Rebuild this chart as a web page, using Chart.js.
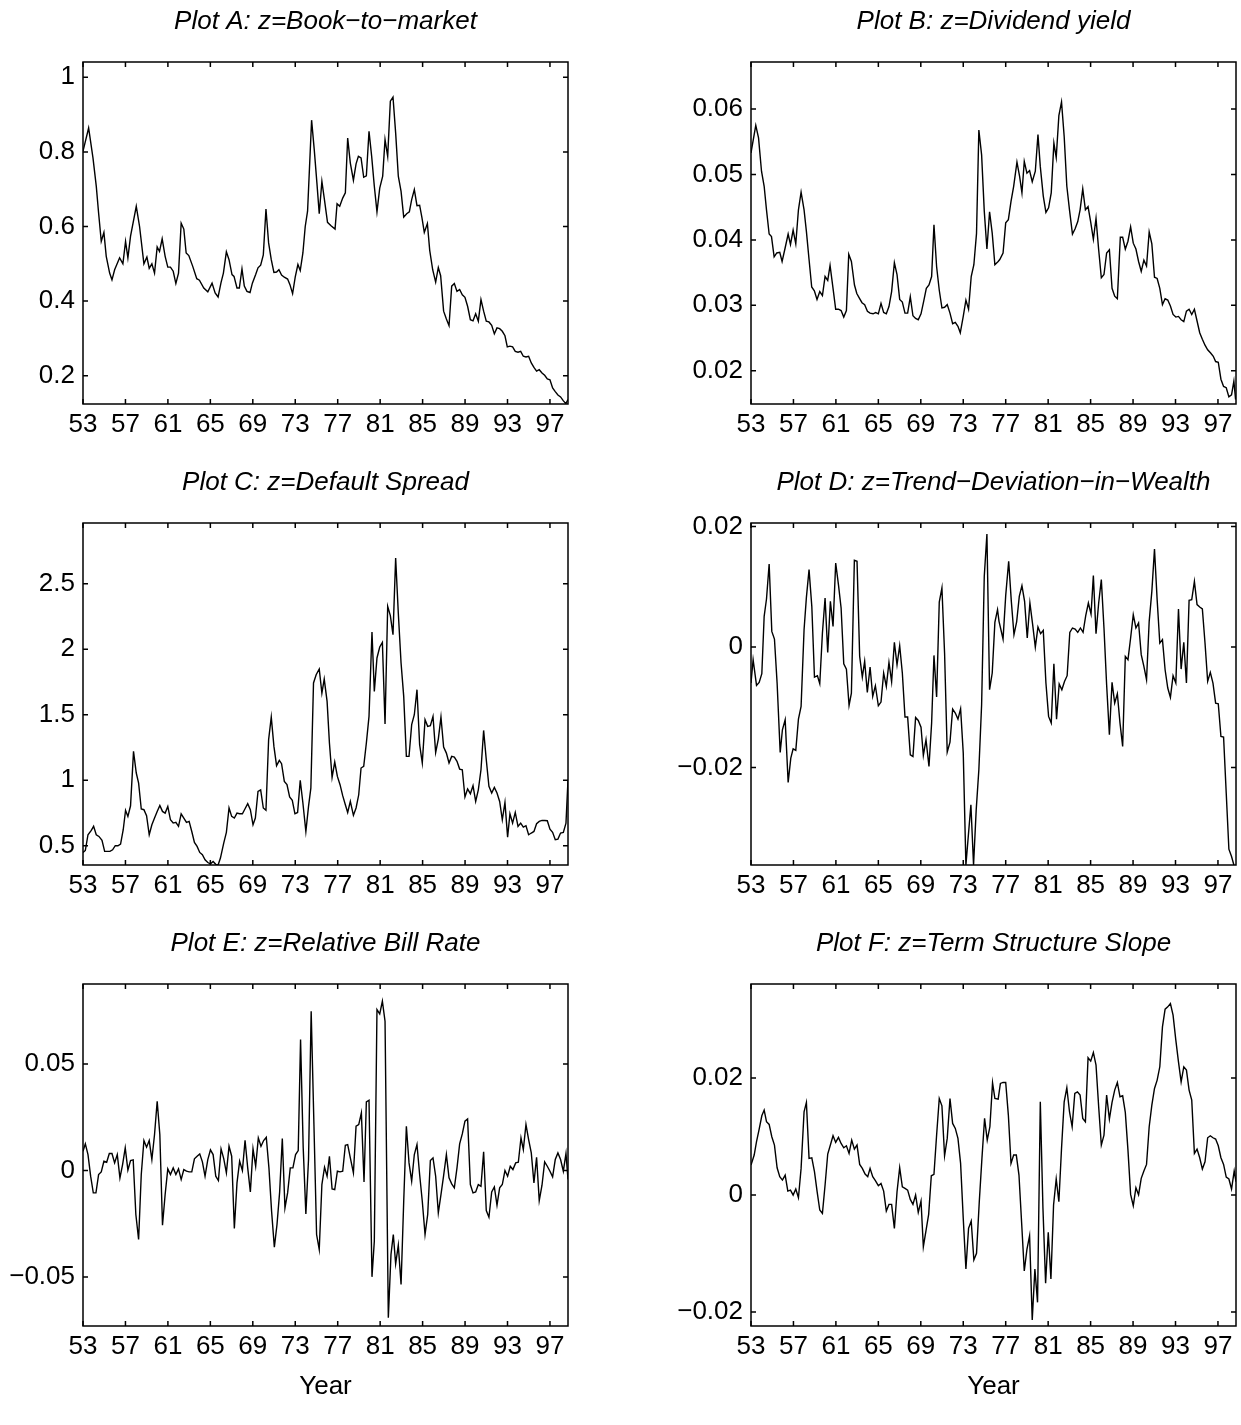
<!DOCTYPE html>
<html>
<head>
<meta charset="utf-8">
<script src="https://cdn.jsdelivr.net/npm/chart.js@4.4.1/dist/chart.umd.min.js"></script>
<style>
  html, body { margin: 0; padding: 0; background: #fff; overflow: hidden; }
  body { width: 1241px; height: 1425px; position: relative; }
</style>
</head>
<body>
<script>
// Six predictive variables, quarterly 1953-1998, one small line plot each (3 x 2 grid)

// ---- Plot A: book-to-market
const bmYears = [53.00,53.53,53.94,54.25,54.47,54.72,54.97,55.19,55.51,55.73,55.98,56.45,56.76,57.01,57.23,57.48,58.02,58.33,58.74,59.02,
  59.24,59.49,59.74,59.99,60.21,60.46,60.74,60.99,61.24,61.50,61.75,62.00,62.25,62.50,62.72,62.97,63.34,63.72,63.97,64.38,
  64.76,65.16,65.45,65.73,66.01,66.23,66.51,66.76,67.04,67.23,67.51,67.73,67.98,68.20,68.45,68.74,68.96,69.27,69.49,69.74,
  69.99,70.24,70.49,70.74,70.99,71.24,71.46,71.71,71.97,72.28,72.50,72.75,73.00,73.25,73.47,73.72,73.94,74.16,74.54,74.79,
  75.04,75.26,75.51,75.73,76.04,76.37,76.75,76.94,77.19,77.47,77.72,77.94,78.19,78.48,78.73,78.95,79.20,79.45,79.70,79.95,
  80.20,80.45,80.70,80.96,81.24,81.46,81.71,81.96,82.21,82.46,82.71,82.97,83.22,83.50,83.75,83.97,84.22,84.47,84.72,84.94,
  85.16,85.45,85.67,85.95,86.23,86.48,86.70,86.98,87.24,87.49,87.74,87.99,88.24,88.49,88.74,88.99,89.24,89.50,89.75,90.00,
  90.25,90.50,90.75,91.00,91.25,91.51,91.76,92.01,92.26,92.51,92.76,92.98,93.23,93.48,93.73,93.99,94.24,94.49,94.74,94.99,
  95.24,95.49,95.74,95.99,96.25,96.50,96.75,97.00,97.25,97.50,97.75,98.00,98.25,98.50,98.70];
const bmValues = [0.802,0.864,0.784,0.708,0.636,0.560,0.584,0.520,0.475,0.457,0.484,0.516,0.500,0.560,0.516,0.574,0.654,0.600,0.500,0.518,
  0.488,0.500,0.475,0.545,0.533,0.567,0.520,0.491,0.491,0.480,0.447,0.475,0.609,0.593,0.529,0.522,0.493,0.460,0.456,0.435,
  0.425,0.448,0.422,0.411,0.450,0.475,0.532,0.511,0.471,0.466,0.435,0.435,0.486,0.440,0.426,0.423,0.448,0.471,0.489,0.496,
  0.524,0.647,0.556,0.511,0.477,0.478,0.484,0.470,0.464,0.459,0.444,0.420,0.465,0.498,0.482,0.529,0.600,0.641,0.885,0.806,
  0.717,0.634,0.721,0.676,0.611,0.602,0.593,0.661,0.654,0.676,0.690,0.837,0.770,0.724,0.768,0.788,0.784,0.732,0.736,0.855,
  0.788,0.708,0.639,0.703,0.735,0.833,0.788,0.936,0.947,0.851,0.735,0.694,0.625,0.634,0.639,0.672,0.699,0.656,0.657,0.623,
  0.584,0.608,0.536,0.484,0.451,0.490,0.468,0.373,0.352,0.334,0.440,0.447,0.426,0.431,0.417,0.410,0.386,0.350,0.347,0.366,
  0.346,0.404,0.373,0.346,0.344,0.335,0.312,0.328,0.326,0.319,0.307,0.277,0.279,0.277,0.265,0.263,0.265,0.252,0.250,0.252,
  0.234,0.222,0.212,0.216,0.207,0.201,0.191,0.189,0.167,0.157,0.148,0.143,0.133,0.125,0.136];
const bmTicks = [0.2, 0.4, 0.6, 0.8, 1];
const bmRange = [0.124, 1.041];

// ---- Plot B: dividend yield
const dyYears = [53.00,53.45,53.71,53.99,54.24,54.46,54.71,54.93,55.18,55.43,55.71,55.93,56.22,56.50,56.72,56.97,57.22,57.47,57.72,58.00,
  58.22,58.47,58.72,58.97,59.22,59.48,59.73,59.98,60.23,60.45,60.73,60.98,61.24,61.49,61.74,61.99,62.21,62.46,62.75,62.97,
  63.21,63.46,63.71,63.97,64.22,64.50,64.75,65.00,65.25,65.50,65.75,66.00,66.25,66.51,66.76,67.01,67.26,67.51,67.76,68.01,
  68.26,68.51,68.76,69.02,69.27,69.52,69.77,70.02,70.24,70.49,70.74,70.99,71.24,71.49,71.75,72.00,72.25,72.50,72.72,73.00,
  73.25,73.50,73.75,74.00,74.25,74.47,74.73,74.98,75.23,75.48,75.73,75.98,76.29,76.44,76.75,77.00,77.25,77.50,77.75,78.06,
  78.31,78.53,78.75,79.00,79.25,79.50,79.79,80.04,80.26,80.54,80.79,81.04,81.29,81.54,81.76,82.01,82.26,82.51,82.76,83.01,
  83.29,83.54,83.79,84.01,84.26,84.51,84.76,85.01,85.26,85.51,85.76,86.01,86.26,86.51,86.77,87.02,87.27,87.52,87.80,88.02,
  88.27,88.52,88.77,89.02,89.27,89.52,89.77,90.02,90.27,90.52,90.77,91.02,91.27,91.52,91.77,92.02,92.27,92.52,92.77,93.03,
  93.28,93.53,93.78,94.03,94.28,94.53,94.78,95.03,95.28,95.53,95.78,96.03,96.31,96.56,96.78,97.03,97.28,97.53,97.78,98.03,
  98.28,98.50,98.66];
const dyValues = [0.0533,0.0575,0.0556,0.0505,0.0482,0.0446,0.0409,0.0405,0.0374,0.0380,0.0381,0.0367,0.0388,0.0409,0.0393,0.0415,0.0394,0.0446,0.0473,0.0446,
  0.0413,0.0370,0.0328,0.0322,0.0309,0.0321,0.0315,0.0344,0.0338,0.0361,0.0326,0.0294,0.0294,0.0292,0.0282,0.0292,0.0378,0.0367,0.0331,0.0318,
  0.0311,0.0304,0.0301,0.0291,0.0288,0.0287,0.0289,0.0287,0.0303,0.0289,0.0287,0.0298,0.0321,0.0365,0.0347,0.0309,0.0305,0.0288,0.0288,0.0313,
  0.0284,0.0280,0.0278,0.0287,0.0306,0.0326,0.0331,0.0344,0.0423,0.0359,0.0323,0.0296,0.0297,0.0301,0.0288,0.0272,0.0274,0.0268,0.0258,0.0283,
  0.0308,0.0294,0.0344,0.0362,0.0410,0.0568,0.0530,0.0444,0.0386,0.0443,0.0410,0.0362,0.0367,0.0370,0.0380,0.0426,0.0431,0.0459,0.0482,0.0519,
  0.0497,0.0472,0.0520,0.0502,0.0506,0.0489,0.0505,0.0561,0.0512,0.0467,0.0442,0.0449,0.0472,0.0548,0.0526,0.0590,0.0611,0.0558,0.0482,0.0446,
  0.0409,0.0417,0.0428,0.0446,0.0478,0.0446,0.0451,0.0427,0.0401,0.0433,0.0385,0.0342,0.0347,0.0380,0.0385,0.0326,0.0314,0.0310,0.0404,0.0404,
  0.0386,0.0398,0.0420,0.0395,0.0386,0.0367,0.0352,0.0369,0.0360,0.0412,0.0394,0.0343,0.0341,0.0326,0.0301,0.0310,0.0308,0.0299,0.0286,0.0282,
  0.0283,0.0278,0.0275,0.0291,0.0294,0.0286,0.0294,0.0276,0.0258,0.0248,0.0239,0.0232,0.0227,0.0222,0.0214,0.0213,0.0187,0.0176,0.0174,0.0160,
  0.0163,0.0184,0.0156];
const dyTicks = [0.02, 0.03, 0.04, 0.05, 0.06];
const dyRange = [0.01491, 0.0672];

// ---- Plot C: default spread
const dsYears = [53.00,53.22,53.47,53.78,54.00,54.25,54.50,54.79,55.04,55.29,55.54,55.79,56.04,56.29,56.54,56.79,57.01,57.23,57.48,57.76,
  58.02,58.24,58.49,58.74,58.99,59.24,59.49,59.74,59.99,60.24,60.49,60.74,60.99,61.24,61.50,61.75,62.00,62.25,62.50,62.75,
  63.00,63.25,63.50,63.75,64.00,64.25,64.50,64.76,65.01,65.26,65.51,65.73,65.95,66.26,66.51,66.76,67.01,67.26,67.51,67.76,
  68.02,68.27,68.52,68.77,69.02,69.24,69.49,69.74,69.99,70.24,70.49,70.74,70.99,71.24,71.50,71.71,71.97,72.22,72.47,72.72,
  72.97,73.22,73.47,73.72,74.00,74.25,74.47,74.72,74.97,75.26,75.51,75.73,76.00,76.22,76.47,76.72,76.97,77.22,77.47,77.72,
  77.94,78.19,78.48,78.73,78.98,79.20,79.45,79.70,79.95,80.23,80.45,80.70,80.96,81.21,81.46,81.71,81.96,82.21,82.46,82.71,
  82.97,83.22,83.47,83.72,83.97,84.22,84.47,84.72,84.97,85.23,85.48,85.73,85.98,86.23,86.48,86.73,86.98,87.24,87.49,87.74,
  87.99,88.24,88.49,88.74,88.99,89.24,89.50,89.75,90.00,90.25,90.50,90.75,91.00,91.25,91.51,91.76,92.01,92.26,92.51,92.76,
  93.01,93.23,93.48,93.73,93.99,94.24,94.49,94.74,94.99,95.24,95.49,95.74,95.99,96.25,96.50,96.75,97.00,97.25,97.50,97.75,
  98.00,98.26,98.51,98.70];
const dsValues = [0.449,0.464,0.584,0.617,0.648,0.584,0.571,0.541,0.457,0.457,0.457,0.469,0.500,0.500,0.513,0.622,0.770,0.724,0.805,1.220,
  1.055,0.978,0.780,0.775,0.729,0.584,0.660,0.711,0.762,0.808,0.762,0.749,0.800,0.698,0.673,0.678,0.648,0.744,0.711,0.678,
  0.686,0.609,0.525,0.495,0.449,0.431,0.393,0.372,0.362,0.380,0.358,0.353,0.406,0.520,0.602,0.788,0.724,0.711,0.749,0.744,
  0.744,0.782,0.821,0.775,0.660,0.711,0.915,0.927,0.788,0.770,1.309,1.482,1.258,1.111,1.151,1.126,0.991,0.966,0.872,0.846,
  0.744,0.754,0.999,0.826,0.609,0.800,0.940,1.742,1.805,1.849,1.665,1.772,1.602,1.284,1.022,1.139,1.029,0.966,0.882,0.813,
  0.754,0.838,0.732,0.788,0.889,1.093,1.106,1.284,1.487,2.131,1.678,1.933,2.017,2.052,1.429,2.327,2.256,2.111,2.696,2.276,
  1.894,1.640,1.182,1.182,1.424,1.500,1.691,1.271,1.131,1.462,1.411,1.416,1.487,1.212,1.314,1.482,1.253,1.207,1.131,1.182,
  1.177,1.144,1.085,1.080,0.872,0.933,0.897,0.958,0.838,0.927,1.080,1.380,1.156,0.953,0.902,0.945,0.902,0.838,0.698,0.831,
  0.566,0.744,0.673,0.754,0.648,0.673,0.642,0.653,0.584,0.597,0.609,0.668,0.686,0.693,0.693,0.691,0.627,0.602,0.546,0.551,
  0.597,0.602,0.673,1.004];
const dsTicks = [0.5, 1, 1.5, 2, 2.5];
const dsRange = [0.353, 2.963];

// ---- Plot D: trend deviation in wealth
const cayYears = [53.00,53.20,53.52,53.77,54.02,54.24,54.46,54.71,54.96,55.21,55.46,55.75,55.96,56.22,56.50,56.75,56.97,57.22,57.47,57.72,
  58.00,58.22,58.47,58.73,58.98,59.26,59.48,59.73,59.98,60.23,60.48,60.73,60.98,61.24,61.49,61.74,61.99,62.24,62.46,62.74,
  62.99,63.24,63.49,63.71,63.96,64.22,64.47,64.72,65.00,65.25,65.50,65.75,66.00,66.25,66.51,66.76,67.01,67.26,67.51,67.76,
  68.01,68.26,68.51,68.76,69.02,69.24,69.49,69.77,70.02,70.24,70.49,70.74,70.99,71.24,71.49,71.75,72.00,72.25,72.50,72.75,
  73.00,73.25,73.72,73.97,74.22,74.47,74.73,74.98,75.23,75.48,75.73,75.98,76.23,76.37,76.75,77.00,77.28,77.53,77.78,78.03,
  78.28,78.53,78.78,79.03,79.28,79.54,79.79,80.04,80.29,80.54,80.79,81.04,81.29,81.54,81.79,82.04,82.29,82.54,82.79,83.04,
  83.29,83.54,83.79,84.04,84.29,84.54,84.79,85.04,85.26,85.51,85.76,86.01,86.26,86.51,86.77,87.02,87.27,87.52,87.77,88.02,
  88.27,88.52,88.77,89.02,89.27,89.52,89.77,90.02,90.27,90.52,90.77,91.02,91.27,91.52,91.77,92.02,92.27,92.52,92.77,93.03,
  93.28,93.53,93.78,94.03,94.28,94.53,94.78,95.03,95.28,95.53,95.78,96.03,96.28,96.53,96.78,97.03,97.28,97.53,97.78,98.03,
  98.28,98.50];
const cayValues = [-0.00598,-0.00211,-0.00637,-0.00587,-0.00443,0.00510,0.00798,0.01380,0.00260,0.00133,-0.00598,-0.01751,-0.01374,-0.01208,-0.02249,-0.01845,-0.01690,-0.01717,-0.01197,-0.00986,
  0.00288,0.00825,0.01285,0.00676,-0.00499,-0.00476,-0.00609,0.00233,0.00814,-0.00089,0.00759,0.00343,0.01396,0.01036,0.00648,-0.00277,-0.00366,-0.00970,-0.00765,0.01440,
  0.01424,-0.00155,-0.00499,-0.00238,-0.00753,-0.00332,-0.00820,-0.00643,-0.00975,-0.00914,-0.00432,-0.00654,-0.00255,-0.00576,0.00078,-0.00294,0.00022,-0.00432,-0.01163,-0.01163,
  -0.01789,-0.01817,-0.01169,-0.01219,-0.01330,-0.01801,-0.01540,-0.01983,-0.01263,-0.00139,-0.00831,0.00748,0.00981,-0.00100,-0.01745,-0.01579,-0.01030,-0.01097,-0.01197,-0.01025,
  -0.01762,-0.03620,-0.02620,-0.03620,-0.02704,-0.02039,-0.00958,0.01175,0.01878,-0.00709,-0.00432,0.00410,0.00620,0.00427,0.00133,0.00853,0.01424,0.00759,0.00205,0.00416,
  0.00842,0.01019,0.00759,0.00150,0.00731,0.00371,0.00000,0.00332,0.00222,0.00277,-0.00598,-0.01152,-0.01263,-0.00277,-0.01197,-0.00615,-0.00709,-0.00571,-0.00476,0.00244,
  0.00316,0.00299,0.00244,0.00316,0.00244,0.00521,0.00731,0.00548,0.01186,0.00222,0.00731,0.01119,0.00316,-0.00626,-0.01457,-0.00587,-0.00931,-0.00776,-0.01263,-0.01651,
  -0.00155,-0.00211,0.00150,0.00537,0.00316,0.00399,-0.00127,-0.00321,-0.00543,0.00427,0.00925,0.01629,0.00787,0.00066,0.00122,-0.00377,-0.00681,-0.00837,-0.00476,-0.00598,
  0.00632,-0.00366,0.00078,-0.00598,0.00776,0.00787,0.01091,0.00704,0.00665,0.00632,0.00066,-0.00571,-0.00421,-0.00598,-0.00931,-0.00942,-0.01485,-0.01496,-0.02427,-0.03357,
  -0.03479,-0.03620];
const cayTicks = [-0.02, 0, 0.02];
const cayRange = [-0.0362, 0.0206];

// ---- Plot E: relative bill rate
const rrelYears = [53.00,53.22,53.47,53.72,53.97,54.22,54.47,54.72,54.97,55.23,55.48,55.73,55.98,56.23,56.48,56.73,56.98,57.23,57.48,57.73,
  57.98,58.24,58.49,58.74,58.99,59.24,59.49,59.74,59.99,60.24,60.49,60.74,60.99,61.24,61.50,61.75,62.00,62.25,62.50,62.75,
  63.00,63.25,63.50,63.75,64.00,64.25,64.50,64.76,65.01,65.26,65.51,65.76,66.01,66.26,66.51,66.76,67.01,67.26,67.51,67.76,
  68.02,68.27,68.52,68.77,69.02,69.27,69.52,69.77,70.02,70.27,70.52,70.77,71.03,71.28,71.53,71.78,72.03,72.28,72.53,72.78,
  73.03,73.28,73.50,73.75,74.00,74.25,74.50,74.76,75.01,75.26,75.51,75.76,76.00,76.22,76.47,76.72,76.97,77.22,77.47,77.72,
  77.94,78.19,78.48,78.73,78.98,79.23,79.48,79.70,79.95,80.23,80.45,80.70,80.96,81.21,81.46,81.77,82.02,82.24,82.46,82.71,
  82.97,83.22,83.47,83.72,83.97,84.22,84.47,84.72,84.97,85.23,85.48,85.73,85.98,86.23,86.48,86.73,86.98,87.24,87.49,87.74,
  87.99,88.24,88.49,88.74,88.99,89.24,89.50,89.75,90.00,90.25,90.50,90.75,91.00,91.25,91.51,91.76,92.01,92.26,92.51,92.76,
  93.01,93.26,93.51,93.77,94.02,94.27,94.49,94.74,94.99,95.24,95.49,95.74,95.99,96.25,96.50,96.75,97.00,97.25,97.50,97.75,
  98.00,98.26,98.51,98.70];
const rrelValues = [0.00908,0.01252,0.00751,-0.00266,-0.01049,-0.01049,-0.00188,-0.00063,0.00438,0.00391,0.00798,0.00798,0.00360,0.00751,-0.00344,0.00282,0.01064,0.00016,0.00469,0.00501,
  -0.02066,-0.03239,-0.00188,0.01408,0.01095,0.01408,0.00516,0.01690,0.03255,0.01690,-0.02567,-0.01127,0.00078,-0.00188,0.00125,-0.00188,0.00078,-0.00423,0.00047,-0.00031,
  -0.00063,-0.00063,0.00548,0.00673,0.00782,0.00407,-0.00266,0.00516,0.00970,0.00751,-0.00266,-0.00469,0.01017,0.00563,-0.00110,0.01142,0.00673,-0.02723,-0.00579,0.00438,
  0.00000,0.01424,0.00125,-0.01002,0.01017,0.00203,0.01534,0.01142,0.01408,0.01565,0.00125,-0.01909,-0.03599,-0.02535,-0.01002,0.01502,-0.01753,-0.01049,0.00125,0.00125,
  0.00751,0.00939,0.06150,0.01064,-0.02034,0.00516,0.07480,0.02160,-0.03005,-0.03709,-0.00657,0.00156,-0.00266,0.00673,-0.00861,-0.00892,-0.00031,-0.00063,-0.00031,0.01189,
  0.01221,0.00595,-0.00110,0.02081,0.02160,0.02707,-0.00532,0.03224,0.03302,-0.04992,-0.03318,0.07559,0.07355,0.07950,0.07011,-0.06917,-0.03944,-0.03005,-0.04382,-0.03505,
  -0.05352,-0.01440,0.02081,0.00360,-0.00501,0.00751,0.01221,-0.00188,-0.01440,-0.03005,-0.02066,0.00469,0.00595,-0.00266,-0.01987,-0.01127,-0.00235,0.00751,-0.00344,-0.00626,
  -0.00814,0.00125,0.01252,0.01721,0.02316,0.02426,-0.00657,-0.01049,-0.01002,-0.00657,-0.00736,0.00876,-0.01878,-0.02191,-0.01002,-0.00767,-0.01628,-0.00814,-0.00657,0.00000,
  -0.00266,0.00203,0.00047,0.00360,0.00391,0.01534,0.00986,0.02160,0.01455,0.00829,-0.00579,0.00626,-0.01408,-0.00689,0.00407,0.00203,-0.00031,-0.00297,0.00516,0.00829,
  0.00516,-0.00031,0.00798,-0.00423];
const rrelTicks = [-0.05, 0, 0.05];
const rrelRange = [-0.0730, 0.0876];

// ---- Plot F: term structure slope
const tsYears = [53.00,53.30,53.52,53.77,54.02,54.24,54.46,54.71,54.96,55.21,55.46,55.71,55.96,56.22,56.47,56.72,56.97,57.22,57.47,57.72,
  58.00,58.22,58.47,58.73,58.98,59.23,59.48,59.73,59.98,60.23,60.48,60.73,60.98,61.24,61.49,61.74,61.99,62.24,62.49,62.74,
  62.99,63.24,63.49,63.75,64.00,64.22,64.47,64.72,65.00,65.25,65.50,65.75,66.00,66.25,66.51,66.76,67.01,67.26,67.51,67.76,
  68.01,68.26,68.51,68.76,69.02,69.24,69.49,69.74,69.99,70.24,70.49,70.74,70.99,71.24,71.49,71.75,72.00,72.25,72.50,72.75,
  73.00,73.25,73.50,73.75,74.00,74.25,74.51,74.76,75.01,75.26,75.51,75.76,75.98,76.29,76.50,76.75,77.00,77.25,77.50,77.75,
  78.00,78.25,78.50,78.75,79.00,79.25,79.50,79.75,80.00,80.26,80.51,80.76,81.01,81.26,81.51,81.76,82.01,82.26,82.51,82.76,
  83.01,83.26,83.51,83.76,84.01,84.26,84.51,84.76,85.01,85.26,85.51,85.76,86.01,86.26,86.51,86.77,87.02,87.27,87.52,87.77,
  88.02,88.27,88.52,88.77,89.02,89.27,89.52,89.77,90.02,90.27,90.52,90.77,91.02,91.27,91.52,91.77,92.02,92.27,92.52,92.77,
  93.03,93.28,93.53,93.78,94.03,94.28,94.53,94.78,95.03,95.28,95.53,95.78,96.03,96.28,96.53,96.78,97.03,97.28,97.53,97.78,
  98.03,98.28,98.53,98.70];
const tsValues = [0.00513,0.00684,0.00912,0.01128,0.01356,0.01453,0.01254,0.01208,0.00997,0.00855,0.00467,0.00313,0.00256,0.00342,0.00068,0.00085,0.00000,0.00103,-0.00046,0.00456,
  0.01425,0.01584,0.00627,0.00638,0.00399,0.00057,-0.00256,-0.00313,0.00171,0.00701,0.00855,0.01014,0.00900,0.00986,0.00883,0.00809,0.00843,0.00712,0.00940,0.00786,
  0.00855,0.00524,0.00456,0.00359,0.00313,0.00456,0.00313,0.00245,0.00160,0.00199,0.00068,-0.00274,-0.00160,-0.00160,-0.00570,0.00057,0.00467,0.00142,0.00114,0.00085,
  -0.00074,-0.00160,0.00000,-0.00296,-0.00103,-0.00883,-0.00610,-0.00330,0.00330,0.00353,0.01026,0.01652,0.01527,0.00672,0.00969,0.01652,0.01225,0.01140,0.00969,0.00541,
  -0.00399,-0.01265,-0.00570,-0.00444,-0.01111,-0.00997,-0.00114,0.00627,0.01311,0.00940,0.01168,0.01920,0.01652,0.01641,0.01909,0.01926,0.01926,0.01368,0.00541,0.00684,
  0.00684,0.00342,-0.00473,-0.01299,-0.00929,-0.00695,-0.02137,-0.01265,-0.01835,0.01595,-0.00228,-0.01510,-0.00638,-0.01436,-0.00171,0.00274,-0.00114,0.00798,0.01595,0.01835,
  0.01425,0.01168,0.01738,0.01766,0.01709,0.01311,0.01254,0.02348,0.02291,0.02439,0.02222,0.01510,0.00855,0.01026,0.01709,0.01299,0.01584,0.01795,0.01926,0.01681,
  0.01698,0.01413,0.00769,0.00011,-0.00182,0.00125,0.00006,0.00285,0.00410,0.00524,0.01168,0.01538,0.01823,0.01966,0.02194,0.02877,0.03179,0.03219,0.03276,0.03077,
  0.02650,0.02279,0.01937,0.02194,0.02137,0.01795,0.01624,0.00712,0.00786,0.00638,0.00444,0.00570,0.00980,0.01014,0.00980,0.00957,0.00843,0.00638,0.00524,0.00308,
  0.00274,0.00103,0.00410,0.00228];
const tsTicks = [-0.02, 0, 0.02];
const tsRange = [-0.0224, 0.0361];

// shared year axis
const yearTicks = [53, 57, 61, 65, 69, 73, 77, 81, 85, 89, 93, 97];
const yearRange = [53, 98.7];

// ---- layout (pixels)
const COL_LEFT = [83, 751];
const ROW_TOP = [62, 523, 984];
const AREA_W = 485, AREA_H = 342;
const AXIS_W = 83, TITLE_H = 62, RIGHT_PAD = 6, TICK_LEN = 5;
const FONT = "'Liberation Sans', Arial, Helvetica, sans-serif";

Chart.defaults.font.family = FONT;
Chart.defaults.font.size = 26;
Chart.defaults.color = '#000';

const fmt = v => String(parseFloat(v.toFixed(4))).replace('-', '\u2212');

// box round the axes with inward ticks on all four sides
const boxTicks = {
  id: 'boxTicks',
  afterDatasetsDraw(chart) {
    const { ctx, chartArea: a, scales: { x, y } } = chart;
    ctx.save();
    ctx.strokeStyle = '#000';
    ctx.lineWidth = 1.5;
    ctx.strokeRect(a.left, a.top, a.right - a.left, a.bottom - a.top);
    ctx.beginPath();
    x.ticks.forEach(t => {
      const px = x.getPixelForValue(t.value);
      ctx.moveTo(px, a.bottom); ctx.lineTo(px, a.bottom - TICK_LEN);
      ctx.moveTo(px, a.top); ctx.lineTo(px, a.top + TICK_LEN);
    });
    y.ticks.forEach(t => {
      const py = y.getPixelForValue(t.value);
      ctx.moveTo(a.left, py); ctx.lineTo(a.left + TICK_LEN, py);
      ctx.moveTo(a.right, py); ctx.lineTo(a.right - TICK_LEN, py);
    });
    ctx.stroke();
    ctx.restore();
  }
};

function drawPanel(p) {
  const xh = p.row === 2 ? 76 : 46;
  const w = AXIS_W + AREA_W + RIGHT_PAD;
  const h = TITLE_H + AREA_H + xh;
  const canvas = document.createElement('canvas');
  canvas.width = w;
  canvas.height = h;
  canvas.style.cssText = `position:absolute;left:${COL_LEFT[p.col] - AXIS_W}px;top:${ROW_TOP[p.row] - TITLE_H}px;width:${w}px;height:${h}px`;
  document.body.appendChild(canvas);

  new Chart(canvas, {
    type: 'scatter',
    data: {
      datasets: [{
        data: p.years.map((yr, i) => ({ x: yr, y: p.values[i] })),
        showLine: true,
        borderColor: '#000',
        borderWidth: 1.4,
        pointRadius: 0,
        tension: 0
      }]
    },
    options: {
      responsive: false,
      animation: false,
      events: [],
      layout: { padding: { left: 0, right: RIGHT_PAD, top: 0, bottom: 0 } },
      plugins: {
        legend: { display: false },
        tooltip: { enabled: false },
        title: {
          display: true,
          text: p.title,
          fullSize: false,
          font: { family: FONT, size: 26, style: 'italic', weight: 'normal' },
          color: '#000',
          padding: { top: 6.4, bottom: 24.4 }
        }
      },
      scales: {
        x: {
          type: 'linear',
          min: yearRange[0], max: yearRange[1],
          afterBuildTicks: s => { s.ticks = yearTicks.map(v => ({ value: v })); },
          afterFit: s => { s.height = xh; },
          grid: { display: false, drawTicks: false },
          border: { display: false },
          ticks: { padding: 5, autoSkip: false, maxRotation: 0, minRotation: 0, callback: v => String(v) },
          title: { display: p.row === 2, text: 'Year', padding: { top: 0, bottom: 0 } }
        },
        y: {
          type: 'linear',
          min: p.range[0], max: p.range[1],
          afterBuildTicks: s => { s.ticks = p.ticks.map(v => ({ value: v })); },
          afterFit: s => { s.width = AXIS_W; },
          grid: { display: false, drawTicks: false },
          border: { display: false },
          ticks: { padding: 8, callback: v => fmt(v) }
        }
      }
    },
    plugins: [boxTicks]
  });
}

[
  { title: 'Plot A: z=Book\u2212to\u2212market', years: bmYears, values: bmValues, ticks: bmTicks, range: bmRange, col: 0, row: 0 },
  { title: 'Plot B: z=Dividend yield', years: dyYears, values: dyValues, ticks: dyTicks, range: dyRange, col: 1, row: 0 },
  { title: 'Plot C: z=Default Spread', years: dsYears, values: dsValues, ticks: dsTicks, range: dsRange, col: 0, row: 1 },
  { title: 'Plot D: z=Trend\u2212Deviation\u2212in\u2212Wealth', years: cayYears, values: cayValues, ticks: cayTicks, range: cayRange, col: 1, row: 1 },
  { title: 'Plot E: z=Relative Bill Rate', years: rrelYears, values: rrelValues, ticks: rrelTicks, range: rrelRange, col: 0, row: 2 },
  { title: 'Plot F: z=Term Structure Slope', years: tsYears, values: tsValues, ticks: tsTicks, range: tsRange, col: 1, row: 2 }
].forEach(drawPanel);
</script>
</body>
</html>
